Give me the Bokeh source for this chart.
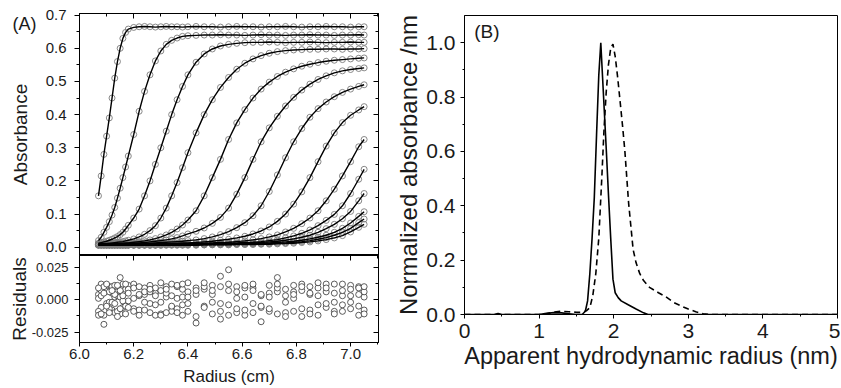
from bokeh.plotting import figure
from bokeh.layouts import row, column
from bokeh.models import Range1d, LinearAxis, FixedTicker, PrintfTickFormatter, Label
from bokeh.embed import file_html
from bokeh.resources import INLINE

FONT = "Liberation Sans"
TXT = "#1a1a1a"

# ---------------- Panel A data ----------------
radius_cm = [6.07, 6.08, 6.09, 6.10, 6.11, 6.12, 6.13, 6.14, 6.15, 6.16, 6.17, 6.18,
             6.20, 6.22, 6.24, 6.26, 6.28, 6.30, 6.32, 6.34, 6.36, 6.38, 6.40,
             6.43, 6.46, 6.49, 6.52, 6.55, 6.58, 6.61, 6.64, 6.67, 6.70, 6.73, 6.76,
             6.79, 6.82, 6.85, 6.88, 6.91, 6.94, 6.97, 7.00, 7.03, 7.05]

scan_01 = [0.155, 0.215, 0.28, 0.335, 0.39, 0.45, 0.51, 0.56, 0.60, 0.63, 0.648, 0.658, 0.663,
           0.665, 0.666, 0.665, 0.664, 0.665, 0.666, 0.665, 0.665, 0.664, 0.665, 0.666, 0.665, 0.665, 0.664, 0.665, 0.666,
           0.665, 0.665, 0.664, 0.665, 0.665, 0.666, 0.665, 0.664, 0.665, 0.665, 0.666, 0.665, 0.665, 0.664, 0.665, 0.665]
scan_02 = [0.02, 0.03, 0.045, 0.06, 0.077, 0.097, 0.12, 0.148, 0.178, 0.21, 0.242, 0.275,
           0.34, 0.41, 0.47, 0.52, 0.562, 0.592, 0.612, 0.624, 0.631, 0.636, 0.638,
           0.639, 0.64, 0.64, 0.641, 0.64, 0.64, 0.639, 0.64, 0.641, 0.64, 0.64,
           0.639, 0.64, 0.64, 0.641, 0.64, 0.64, 0.639, 0.64, 0.64, 0.641, 0.64]
scan_03 = [0.012, 0.014, 0.016, 0.018, 0.021, 0.024, 0.028, 0.032, 0.038, 0.045, 0.055, 0.066,
           0.088, 0.115, 0.155, 0.20, 0.25, 0.30, 0.35, 0.40, 0.445, 0.485, 0.52,
           0.558, 0.583, 0.598, 0.607, 0.612, 0.615, 0.617, 0.618,
           0.618, 0.619, 0.618, 0.617, 0.618, 0.618, 0.619, 0.618, 0.617, 0.618, 0.618, 0.619, 0.618, 0.618]
scan_04 = [0.01, 0.01, 0.011, 0.011, 0.012, 0.013, 0.014, 0.015, 0.016, 0.017, 0.019, 0.021,
           0.025, 0.031, 0.039, 0.05, 0.065, 0.088, 0.118, 0.155, 0.195, 0.24, 0.285,
           0.345, 0.40, 0.445, 0.482, 0.512, 0.537, 0.555, 0.568, 0.578, 0.585, 0.59,
           0.593, 0.595, 0.596, 0.597, 0.597, 0.598, 0.598, 0.597, 0.598, 0.598, 0.599]
scan_05 = [0.009, 0.009, 0.009, 0.01, 0.01, 0.01, 0.011, 0.011, 0.012, 0.012, 0.013, 0.013,
           0.015, 0.017, 0.019, 0.022, 0.026, 0.031, 0.037, 0.045, 0.055, 0.067, 0.082,
           0.11, 0.155, 0.21, 0.265, 0.325, 0.375, 0.415, 0.45, 0.477, 0.498, 0.515,
           0.528, 0.538, 0.546, 0.552, 0.557, 0.561, 0.564, 0.566, 0.568, 0.57, 0.571]
scan_06 = [0.009, 0.009, 0.009, 0.009, 0.01, 0.01, 0.01, 0.01, 0.011, 0.011, 0.011, 0.012,
           0.012, 0.013, 0.014, 0.016, 0.018, 0.02, 0.022, 0.025, 0.029, 0.034, 0.04,
           0.048, 0.058, 0.072, 0.09, 0.118, 0.16, 0.21, 0.265, 0.318, 0.36, 0.395,
           0.426, 0.452, 0.474, 0.492, 0.506, 0.517, 0.526, 0.532, 0.536, 0.539, 0.541]
scan_07 = [0.009, 0.009, 0.009, 0.009, 0.009, 0.009, 0.01, 0.01, 0.01, 0.01, 0.01, 0.01,
           0.011, 0.011, 0.012, 0.012, 0.013, 0.014, 0.015, 0.016, 0.017, 0.018, 0.02,
           0.022, 0.026, 0.031, 0.038, 0.047, 0.059, 0.074, 0.095, 0.125, 0.168, 0.218,
           0.27, 0.318, 0.358, 0.392, 0.418, 0.438, 0.454, 0.467, 0.477, 0.485, 0.49]
scan_08 = [0.008, 0.008, 0.008, 0.008, 0.009, 0.009, 0.009, 0.009, 0.009, 0.009, 0.009, 0.009,
           0.01, 0.01, 0.01, 0.01, 0.011, 0.011, 0.011, 0.012, 0.012, 0.013, 0.013,
           0.014, 0.016, 0.018, 0.021, 0.024, 0.028, 0.033, 0.04, 0.049, 0.061, 0.078,
           0.10, 0.13, 0.167, 0.21, 0.258, 0.305, 0.345, 0.376, 0.398, 0.414, 0.424]
scan_09 = [0.008, 0.008, 0.008, 0.008, 0.008, 0.008, 0.008, 0.008, 0.008, 0.008, 0.008, 0.008,
           0.009, 0.009, 0.009, 0.009, 0.009, 0.01, 0.01, 0.01, 0.01, 0.011, 0.011,
           0.012, 0.012, 0.013, 0.014, 0.015, 0.017, 0.019, 0.022, 0.026, 0.031, 0.037,
           0.046, 0.057, 0.071, 0.088, 0.11, 0.14, 0.175, 0.215, 0.258, 0.303, 0.325]
scan_10 = [0.008, 0.008, 0.008, 0.008, 0.008, 0.008, 0.008, 0.008, 0.008, 0.008, 0.008, 0.008,
           0.008, 0.008, 0.008, 0.009, 0.009, 0.009, 0.009, 0.009, 0.009, 0.01, 0.01,
           0.01, 0.011, 0.011, 0.012, 0.012, 0.013, 0.014, 0.015, 0.017, 0.02, 0.023,
           0.028, 0.034, 0.042, 0.052, 0.065, 0.081, 0.099, 0.125, 0.162, 0.205, 0.235]
scan_11 = [0.007, 0.007, 0.007, 0.007, 0.007, 0.007, 0.007, 0.007, 0.007, 0.007, 0.007, 0.007,
           0.007, 0.007, 0.008, 0.008, 0.008, 0.008, 0.008, 0.008, 0.008, 0.009, 0.009,
           0.009, 0.009, 0.01, 0.01, 0.011, 0.011, 0.012, 0.013, 0.014, 0.016, 0.018,
           0.021, 0.025, 0.03, 0.036, 0.045, 0.056, 0.069, 0.086, 0.108, 0.14, 0.162]
scan_12 = [0.007, 0.007, 0.007, 0.007, 0.007, 0.007, 0.007, 0.007, 0.007, 0.007, 0.007, 0.007,
           0.007, 0.007, 0.007, 0.007, 0.007, 0.008, 0.008, 0.008, 0.008, 0.008, 0.008,
           0.008, 0.009, 0.009, 0.009, 0.01, 0.01, 0.011, 0.011, 0.012, 0.013, 0.014,
           0.016, 0.018, 0.021, 0.025, 0.03, 0.036, 0.045, 0.057, 0.073, 0.093, 0.107]
scan_13 = [0.006, 0.006, 0.006, 0.006, 0.006, 0.006, 0.006, 0.006, 0.006, 0.006, 0.006, 0.006,
           0.006, 0.006, 0.006, 0.006, 0.006, 0.006, 0.007, 0.007, 0.007, 0.007, 0.007,
           0.007, 0.007, 0.008, 0.008, 0.008, 0.009, 0.009, 0.01, 0.01, 0.011, 0.012,
           0.013, 0.015, 0.017, 0.02, 0.024, 0.029, 0.036, 0.045, 0.057, 0.074, 0.085]
scan_14 = [0.006, 0.006, 0.006, 0.006, 0.006, 0.006, 0.006, 0.006, 0.006, 0.006, 0.006, 0.006,
           0.006, 0.006, 0.006, 0.006, 0.006, 0.006, 0.006, 0.006, 0.006, 0.006, 0.006,
           0.006, 0.007, 0.007, 0.007, 0.007, 0.008, 0.008, 0.008, 0.009, 0.009, 0.01,
           0.011, 0.012, 0.014, 0.016, 0.019, 0.023, 0.028, 0.035, 0.046, 0.06, 0.069]

residual_1 = [0.004, -0.006, 0.008, -0.003, 0.010, -0.008, 0.002, 0.006, -0.011, 0.009,
              -0.004, 0.011, -0.007, 0.003, 0.009, -0.010, 0.005, -0.002, 0.010, -0.006,
              0.001, 0.008, -0.009, 0.004, -0.005, 0.011, -0.003, 0.007, -0.010, 0.002,
              0.009, -0.006, 0.005, -0.011, 0.008, 0.001, -0.007, 0.010, -0.004, 0.006,
              -0.009, 0.003, 0.011, -0.005, 0.002]
residual_2 = [-0.009, 0.012, -0.019, 0.007, -0.002, 0.005, -0.010, 0.003, 0.017, -0.006,
              0.008, -0.001, 0.012, -0.008, 0.004, 0.011, -0.012, 0.007, 0.002, -0.009,
              0.010, -0.004, 0.013, -0.018, 0.008, -0.011, 0.018, 0.023, -0.007, 0.009,
              -0.003, -0.017, 0.011, 0.017, -0.010, 0.006, 0.012, -0.008, 0.003, 0.012,
              -0.011, 0.007, -0.002, 0.010, -0.008]
residual_3 = [0.001, 0.007, -0.012, 0.011, -0.007, 0.010, 0.004, -0.009, 0.002, 0.012,
              -0.005, 0.008, 0.001, -0.012, 0.006, -0.003, 0.009, -0.011, 0.005, 0.012,
              -0.007, 0.002, 0.006, -0.013, 0.010, 0.004, -0.009, 0.012, 0.001, -0.012,
              0.007, 0.003, -0.009, 0.006, -0.002, 0.011, -0.013, 0.004, 0.009, -0.006,
              0.012, -0.004, 0.008, -0.012, 0.006]
residual_4 = [-0.012, 0.003, 0.010, -0.005, 0.006, -0.002, 0.011, -0.013, 0.007, -0.001,
              0.012, -0.006, 0.009, 0.004, -0.008, 0.006, -0.004, 0.013, -0.010, 0.003,
              0.011, -0.012, 0.002, 0.009, -0.006, 0.007, -0.015, -0.004, 0.010, -0.008,
              0.012, -0.005, 0.002, 0.009, -0.013, 0.004, 0.007, -0.011, 0.013, -0.003,
              0.005, -0.009, 0.003, 0.009, -0.011]
residual_5 = [0.009, -0.011, 0.005, 0.012, -0.010, 0.007, -0.003, 0.011, -0.007, 0.003,
              -0.011, 0.005, -0.009, 0.010, -0.002, 0.008, 0.003, -0.012, 0.008, -0.005,
              -0.010, 0.012, -0.003, 0.007, 0.013, -0.002, 0.010, -0.012, 0.006, 0.011,
              -0.010, 0.004, -0.007, 0.012, 0.003, -0.009, 0.010, 0.005, -0.012, 0.009,
              -0.002, 0.012, -0.007, 0.004, 0.010]

# ---------------- Panel B data ----------------
rh_solid_nm = [0.0, 0.40, 0.45, 0.50, 0.55, 1.00, 1.10, 1.20, 1.30, 1.40, 1.50, 1.58, 1.62,
               1.65, 1.68, 1.71, 1.74, 1.77, 1.80, 1.827, 1.84, 1.87, 1.90, 1.93, 1.96, 1.99,
               2.02, 2.06, 2.10, 2.20, 2.30, 2.40, 2.46, 3.00, 4.00, 5.00]
abs_solid = [0.0, 0.0, 0.004, 0.0, 0.0, 0.0, 0.004, 0.007, 0.006, 0.003, 0.0, 0.001, 0.012,
             0.05, 0.15, 0.28, 0.43, 0.66, 0.88, 1.0, 0.93, 0.77, 0.61, 0.44, 0.28, 0.13,
             0.08, 0.062, 0.05, 0.035, 0.02, 0.006, 0.0, 0.0, 0.0, 0.0]
rh_dashed_nm = [0.0, 1.00, 1.10, 1.20, 1.30, 1.40, 1.50, 1.56, 1.60, 1.64, 1.68, 1.72, 1.76,
                1.80, 1.84, 1.87, 1.90, 1.93, 1.96, 1.99, 2.02, 2.05, 2.08, 2.12, 2.15, 2.20,
                2.26, 2.30, 2.35, 2.40, 2.48, 2.60, 2.70, 2.80, 2.93, 3.00, 3.10, 3.20, 3.30, 5.00]
abs_dashed = [0.0, 0.0, 0.003, 0.009, 0.012, 0.01, 0.008, 0.008, 0.01, 0.015, 0.025, 0.07, 0.15,
              0.28, 0.50, 0.68, 0.82, 0.92, 0.98, 0.995, 0.95, 0.88, 0.80, 0.69, 0.60, 0.41,
              0.24, 0.19, 0.15, 0.125, 0.10, 0.08, 0.065, 0.045, 0.028, 0.02, 0.01, 0.003, 0.0, 0.0]

# tick positions
a_x_major = [6.0, 6.2, 6.4, 6.6, 6.8, 7.0]
a_x_minor = [6.1, 6.3, 6.5, 6.7, 6.9, 7.1]
a_y_major = [0.0, 0.1, 0.2, 0.3, 0.4, 0.5, 0.6, 0.7]
a_y_minor = [0.05, 0.15, 0.25, 0.35, 0.45, 0.55, 0.65]
r_y_major = [-0.025, 0.0, 0.025]
r_y_minor = [-0.0125, 0.0125]
b_x_major = [0, 1, 2, 3, 4, 5]
b_x_minor = [0.5, 1.5, 2.5, 3.5, 4.5]
b_y_major = [0.0, 0.2, 0.4, 0.6, 0.8, 1.0]
b_y_minor = [0.1, 0.3, 0.5, 0.7, 0.9]
panel_a_tag_at = 0.674   # height (absorbance units) where "(A)" sits

scans = [scan_01, scan_02, scan_03, scan_04, scan_05, scan_06, scan_07,
         scan_08, scan_09, scan_10, scan_11, scan_12, scan_13, scan_14]
residuals = [residual_1, residual_2, residual_3, residual_4, residual_5]
for arr in scans + residuals:
    if len(arr) != len(radius_cm):
        raise ValueError("length mismatch %d" % len(arr))


def style_axis(ax, tick_size, label_size, tick_out=5, minor_out=3, standoff=5, label_standoff=5):
    ax.major_label_text_font = FONT
    ax.major_label_text_font_size = tick_size
    ax.major_label_text_color = TXT
    ax.axis_label_text_font = FONT
    ax.axis_label_text_font_size = label_size
    ax.axis_label_text_font_style = "normal"
    ax.axis_label_text_color = TXT
    ax.axis_line_color = "black"
    ax.major_tick_line_color = "black"
    ax.minor_tick_line_color = "black"
    ax.major_tick_out = tick_out
    ax.major_tick_in = 0
    ax.minor_tick_out = minor_out
    ax.minor_tick_in = 0
    ax.major_label_standoff = standoff
    ax.axis_label_standoff = label_standoff


def mirror_axis(p, place, major, minor):
    # tick marks only (pointing inwards), no tick labels
    ax = LinearAxis(ticker=FixedTicker(ticks=major, minor_ticks=minor))
    ax.major_label_text_font_size = "1px"
    ax.major_label_text_color = None
    ax.major_label_standoff = 0
    ax.major_tick_in = 5
    ax.major_tick_out = 0
    ax.minor_tick_in = 3
    ax.minor_tick_out = 0
    ax.axis_line_color = "black"
    p.add_layout(ax, place)


# ---------------- Panel A (top) ----------------
pa = figure(width=392, height=255, x_range=Range1d(6.0, 7.103), y_range=Range1d(-0.025, 0.705),
            output_backend="svg", toolbar_location=None, x_axis_location=None,
            min_border_left=79, min_border_right=14, min_border_top=13, min_border_bottom=0)
pa.grid.visible = False
pa.outline_line_color = "black"
pa.yaxis.ticker = FixedTicker(ticks=a_y_major, minor_ticks=a_y_minor)
pa.yaxis.formatter = PrintfTickFormatter(format="%.1f")
style_axis(pa.yaxis[0], "15px", "19px", standoff=8, label_standoff=0)

# outer left axis: carries the "(A)" tag and the "Absorbance" title
tag_axis = LinearAxis(ticker=FixedTicker(ticks=[panel_a_tag_at], minor_ticks=[]),
                      major_label_overrides={panel_a_tag_at: "(A)"},
                      axis_label="Absorbance")
style_axis(tag_axis, "18px", "19px", tick_out=0, minor_out=0, standoff=6, label_standoff=-21)
tag_axis.axis_line_color = None
tag_axis.major_tick_line_color = None
tag_axis.minor_tick_line_color = None
pa.add_layout(tag_axis, "left")

mirror_axis(pa, "above", a_x_major, a_x_minor)
mirror_axis(pa, "right", a_y_major, a_y_minor)

for s in scans:
    pa.scatter(radius_cm, s, marker="circle", size=6, fill_color=None,
               line_color="#7c7c7c", line_width=0.9)
for s in scans:
    pa.line(radius_cm, s, line_color="black", line_width=1.4)

# ---------------- Panel A (residuals) ----------------
pr = figure(width=392, height=133, x_range=pa.x_range, y_range=Range1d(-0.033, 0.034),
            output_backend="svg", toolbar_location=None,
            min_border_left=79, min_border_right=14, min_border_top=0, min_border_bottom=42)
pr.grid.visible = False
pr.outline_line_color = "black"
pr.xaxis.ticker = FixedTicker(ticks=a_x_major, minor_ticks=a_x_minor)
pr.xaxis.formatter = PrintfTickFormatter(format="%.1f")
pr.xaxis.axis_label = "Radius (cm)"
style_axis(pr.xaxis[0], "15px", "17px", tick_out=4, minor_out=2, standoff=2, label_standoff=5)
pr.yaxis.ticker = FixedTicker(ticks=r_y_major, minor_ticks=r_y_minor)
pr.yaxis.formatter = PrintfTickFormatter(format="%.3f")
pr.yaxis.axis_label = "Residuals"
style_axis(pr.yaxis[0], "13px", "19px", standoff=6, label_standoff=-1)
mirror_axis(pr, "above", a_x_major, a_x_minor)
mirror_axis(pr, "right", r_y_major, r_y_minor)
for r in residuals:
    pr.scatter(radius_cm, r, marker="circle", size=6, fill_color="white",
               line_color="#333333", line_width=0.8)

# ---------------- Panel B ----------------
pb = figure(width=448, height=388, x_range=Range1d(0, 5), y_range=Range1d(0, 1.1),
            output_backend="svg", toolbar_location=None,
            min_border_left=70, min_border_right=3, min_border_top=15, min_border_bottom=74)
pb.grid.visible = False
pb.outline_line_color = "black"
pb.xaxis.ticker = FixedTicker(ticks=b_x_major, minor_ticks=b_x_minor)
pb.xaxis.formatter = PrintfTickFormatter(format="%d")
pb.xaxis.axis_label = "Apparent hydrodynamic radius (nm)"
style_axis(pb.xaxis[0], "21px", "23.5px", tick_out=4, minor_out=2, standoff=5, label_standoff=2)
pb.yaxis.ticker = FixedTicker(ticks=b_y_major, minor_ticks=b_y_minor)
pb.yaxis.formatter = PrintfTickFormatter(format="%.1f")
pb.yaxis.axis_label = "Normalized absorbance /nm"
style_axis(pb.yaxis[0], "21px", "24px", tick_out=4, minor_out=2, standoff=5, label_standoff=1)

pb.line(rh_solid_nm, abs_solid, line_color="black", line_width=1.6)
pb.line(rh_dashed_nm, abs_dashed, line_color="black", line_width=1.6, line_dash="6 4")
pb.add_layout(Label(x=0.13, y=1.04, text="(B)", text_font=FONT, text_font_size="19px",
                    text_color=TXT, text_baseline="middle", text_align="left"))

layout = row(column(pa, pr), pb)
open("out.html", "w").write(file_html(layout, INLINE))
